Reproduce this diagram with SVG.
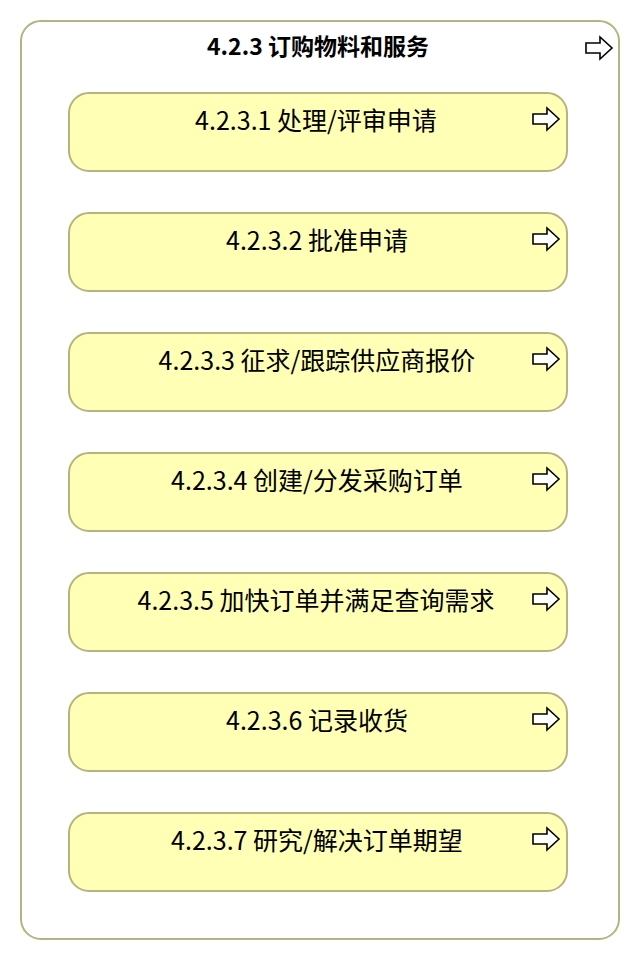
<svg xmlns="http://www.w3.org/2000/svg" width="640" height="960" viewBox="0 0 640 960">
<defs>
<style>
.outer{fill:#ffffff;stroke:#b4b47c;stroke-width:2}
.box{fill:#ffffb5;stroke:#b4b47c;stroke-width:2}
.t{font-family:"Noto Sans CJK SC","Noto Sans",sans-serif;font-size:25px;fill:#000;text-anchor:middle}
.title{font-family:"Noto Sans CJK SC","Noto Sans",sans-serif;font-size:23px;font-weight:bold;fill:#000;text-anchor:middle}
.ar{fill:#fff;stroke:#000;stroke-width:1.6;stroke-linejoin:miter}
</style>
<path id="arrow" class="ar" d="M0,-5 H14 V-11 L26,0 L14,11 V5 H0 Z"/>
</defs>
<g id="container">
<rect class="outer" x="21" y="21" width="598" height="918" rx="20" ry="20"/>
<text class="title" x="318" y="55">4.2.3 订购物料和服务</text>
<use href="#arrow" x="586" y="48"/>
</g>
<g id="n1"><rect class="box" x="69" y="93" width="498" height="78" rx="20" ry="20"/><text class="t" x="316" y="130">4.2.3.1 处理/评审申请</text><use href="#arrow" x="533" y="119"/></g>
<g id="n2"><rect class="box" x="69" y="213" width="498" height="78" rx="20" ry="20"/><text class="t" x="317" y="250">4.2.3.2 批准申请</text><use href="#arrow" x="533" y="239"/></g>
<g id="n3"><rect class="box" x="69" y="333" width="498" height="78" rx="20" ry="20"/><text class="t" x="317" y="370">4.2.3.3 征求/跟踪供应商报价</text><use href="#arrow" x="533" y="359"/></g>
<g id="n4"><rect class="box" x="69" y="453" width="498" height="78" rx="20" ry="20"/><text class="t" x="317" y="490">4.2.3.4 创建/分发采购订单</text><use href="#arrow" x="533" y="479"/></g>
<g id="n5"><rect class="box" x="69" y="573" width="498" height="78" rx="20" ry="20"/><text class="t" x="316" y="610">4.2.3.5 加快订单并满足查询需求</text><use href="#arrow" x="533" y="599"/></g>
<g id="n6"><rect class="box" x="69" y="693" width="498" height="78" rx="20" ry="20"/><text class="t" x="317" y="730">4.2.3.6 记录收货</text><use href="#arrow" x="533" y="719"/></g>
<g id="n7"><rect class="box" x="69" y="813" width="498" height="78" rx="20" ry="20"/><text class="t" x="317" y="850">4.2.3.7 研究/解决订单期望</text><use href="#arrow" x="533" y="839"/></g>
<g id="connectors"></g>
</svg>
